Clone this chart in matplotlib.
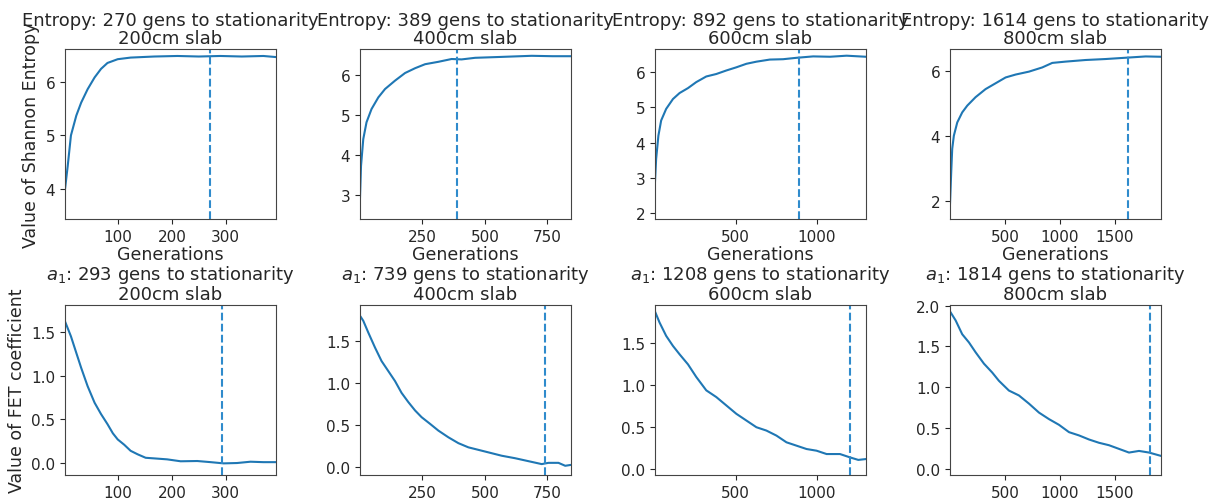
import matplotlib.pyplot as plt

slabs = ['200cm', '400cm', '600cm', '800cm']
ent_stat = [270, 389, 892, 1614]
a1_stat = [293, 739, 1208, 1814]

# entropy curves (generation, value)
ent_200_x = [1, 6, 12, 22, 31, 43, 56, 68, 80, 99, 123, 167, 210, 250, 290, 330, 370, 393]
ent_200_y = [4.0, 4.43, 5.0, 5.37, 5.61, 5.86, 6.08, 6.24, 6.35, 6.42, 6.45, 6.47, 6.48, 6.47, 6.48, 6.47, 6.48, 6.46]

ent_400_x = [1, 5, 14, 27, 47, 74, 101, 141, 181, 221, 261, 314, 367, 407, 461, 554, 687, 770, 843]
ent_400_y = [2.95, 3.73, 4.4, 4.82, 5.15, 5.44, 5.65, 5.86, 6.05, 6.17, 6.27, 6.33, 6.4, 6.39, 6.43, 6.45, 6.48, 6.47, 6.47]

ent_600_x = [1, 8, 22, 39, 70, 112, 153, 205, 256, 318, 380, 442, 504, 566, 628, 711, 793, 876, 979, 1083, 1186, 1304]
ent_600_y = [2.9, 3.54, 4.2, 4.63, 4.96, 5.24, 5.41, 5.55, 5.72, 5.88, 5.95, 6.05, 6.14, 6.24, 6.3, 6.36, 6.37, 6.41, 6.45, 6.44, 6.47, 6.44]

ent_800_x = [1, 12, 21, 36, 67, 112, 158, 233, 324, 415, 506, 597, 718, 839, 930, 1051, 1233, 1415, 1597, 1779, 1915]
ent_800_y = [1.9, 2.88, 3.6, 4.01, 4.42, 4.73, 4.94, 5.2, 5.45, 5.63, 5.81, 5.9, 5.99, 6.12, 6.26, 6.3, 6.35, 6.38, 6.42, 6.46, 6.45]

# a1 coefficient curves (generation, value)
a1_200_x = [1, 12, 22, 31, 43, 56, 68, 80, 90, 99, 111, 123, 136, 151, 167, 191, 216, 247, 272, 296, 321, 346, 370, 393]
a1_200_y = [1.62, 1.45, 1.26, 1.09, 0.88, 0.69, 0.56, 0.445, 0.34, 0.27, 0.21, 0.14, 0.10, 0.06, 0.053, 0.042, 0.02, 0.023, 0.01, -0.004, 0.0, 0.015, 0.01, 0.01]

a1_400_x = [1, 14, 34, 61, 87, 114, 141, 167, 194, 221, 247, 281, 314, 354, 394, 434, 474, 514, 567, 621, 674, 727, 754, 794, 821, 843]
a1_400_y = [1.8, 1.74, 1.6, 1.42, 1.26, 1.14, 1.02, 0.88, 0.77, 0.67, 0.59, 0.51, 0.43, 0.35, 0.28, 0.23, 0.2, 0.17, 0.13, 0.1, 0.065, 0.03, 0.045, 0.045, 0.01, 0.02]

a1_600_x = [1, 29, 70, 112, 153, 205, 256, 318, 380, 442, 504, 566, 628, 690, 752, 814, 876, 938, 1000, 1062, 1145, 1207, 1258, 1304]
a1_600_y = [1.88, 1.75, 1.59, 1.47, 1.37, 1.25, 1.1, 0.94, 0.86, 0.76, 0.66, 0.58, 0.5, 0.46, 0.4, 0.32, 0.28, 0.24, 0.22, 0.18, 0.18, 0.14, 0.11, 0.12]

a1_800_x = [1, 52, 112, 173, 233, 309, 385, 445, 536, 627, 718, 809, 900, 991, 1082, 1173, 1264, 1354, 1445, 1536, 1627, 1718, 1809, 1915]
a1_800_y = [1.93, 1.82, 1.65, 1.55, 1.43, 1.29, 1.18, 1.08, 0.96, 0.9, 0.8, 0.69, 0.61, 0.54, 0.45, 0.41, 0.36, 0.32, 0.29, 0.245, 0.2, 0.22, 0.2, 0.16]

ent_x = [ent_200_x, ent_400_x, ent_600_x, ent_800_x]
ent_y = [ent_200_y, ent_400_y, ent_600_y, ent_800_y]
a1_x = [a1_200_x, a1_400_x, a1_600_x, a1_800_x]
a1_y = [a1_200_y, a1_400_y, a1_600_y, a1_800_y]

ent_ylim = [(3.44, 6.61), (2.4, 6.65), (1.83, 6.66), (1.43, 6.69)]
ent_yticks = [[4, 5, 6], [3, 4, 5, 6], [2, 3, 4, 5, 6], [2, 4, 6]]
a1_ylim = [(-0.137, 1.81), (-0.1, 1.93), (-0.07, 1.96), (-0.075, 2.01)]
a1_yticks = [[0.0, 0.5, 1.0, 1.5], [0.0, 0.5, 1.0, 1.5], [0.0, 0.5, 1.0, 1.5], [0.0, 0.5, 1.0, 1.5, 2.0]]
xticks = [[100, 200, 300], [250, 500, 750], [500, 1000], [500, 1000, 1500]]

txt = '#262626'
plt.rcParams['font.family'] = 'DejaVu Sans'
plt.rcParams['text.color'] = txt
plt.rcParams['axes.labelcolor'] = txt
plt.rcParams['xtick.color'] = txt
plt.rcParams['ytick.color'] = txt
plt.rcParams['axes.edgecolor'] = '#444444'

fig, axes = plt.subplots(2, 4, figsize=(12.2, 5.02), dpi=100)
fig.subplots_adjust(left=0.0533, right=0.9514, top=0.9004, bottom=0.0518,
                    wspace=0.4, hspace=0.504)

line_c = '#1f77b4'
vline_c = '#2f8bcc'

for i in range(4):
    ax = axes[0, i]
    ax.plot(ent_x[i], ent_y[i], color=line_c, lw=1.5)
    ax.axvline(ent_stat[i], color=vline_c, ls='--', lw=1.5)
    ax.set_xlim(1, ent_x[i][-1])
    ax.set_ylim(*ent_ylim[i])
    ax.set_xticks(xticks[i])
    ax.set_yticks(ent_yticks[i])
    ax.set_title('Entropy: %d gens to stationarity\n%s slab' % (ent_stat[i], slabs[i]),
                 fontsize=13, pad=4, linespacing=1.05)
    ax.set_xlabel('Generations', fontsize=12.5, labelpad=1)
    ax.tick_params(labelsize=11)

    ax = axes[1, i]
    ax.plot(a1_x[i], a1_y[i], color=line_c, lw=1.5)
    ax.axvline(a1_stat[i], color=vline_c, ls='--', lw=1.5)
    ax.set_xlim(1, a1_x[i][-1])
    ax.set_ylim(*a1_ylim[i])
    ax.set_xticks(xticks[i])
    ax.set_yticks(a1_yticks[i])
    ax.set_title('$a_1$: %d gens to stationarity\n%s slab' % (a1_stat[i], slabs[i]),
                 fontsize=13, pad=4, linespacing=1.05)
    ax.tick_params(labelsize=11)

axes[0, 0].set_ylabel('Value of Shannon Entropy', fontsize=12.5)
axes[1, 0].set_ylabel('Value of FET coefficient', fontsize=12.5)

plt.savefig('out.png', dpi=100)
